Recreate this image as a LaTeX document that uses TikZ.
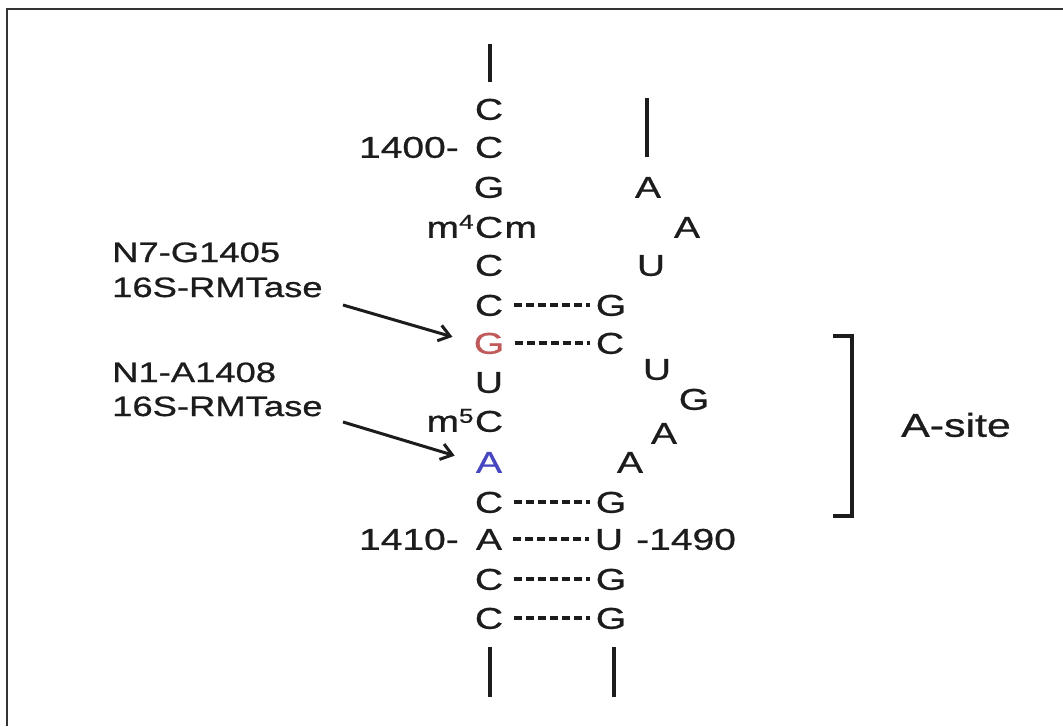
\documentclass[tikz,border=0pt]{standalone}
\usepackage{fontspec}
\setmainfont{Liberation Sans}[FakeStretch=1.3,FakeBold=0.8]
\usetikzlibrary{arrows.meta}
\definecolor{ink}{HTML}{1C1C1C}
\definecolor{gred}{HTML}{C05A5A}
\definecolor{ablue}{HTML}{4646C0}
\begin{document}
\begin{tikzpicture}[x=1pt,y=-1pt,
  nt/.style={inner sep=0pt, text height=21.5pt, text depth=0pt, font=\fontsize{30}{36}\selectfont, text=ink},
  lab/.style={inner sep=0pt, anchor=west, text height=20pt, text depth=0pt, font=\fontsize{28}{34}\selectfont, text=ink},
  pair/.style={draw=ink, line width=3.3pt, dash pattern=on 8pt off 4pt, shorten <=11pt, shorten >=6pt},
  stem/.style={draw=ink, line width=4pt},
  arr/.style={draw=ink, line width=3pt, -{Straight Barb[length=11pt,width=16pt,line width=3pt]}},
  frame/.style={draw=black!80, line width=2pt}]
\useasboundingbox (0,0) rectangle (1063,726);
% frame
\coordinate (fTL) at (7,9);
\coordinate (fTR) at (1063,9);
\coordinate (fBL) at (7,726);
\draw[frame] (fTR) -- (fTL) -- (fBL);

% left strand
\node[nt] (L0) at (489,109) {C};
\node[nt] (L1) at (489,147) {C};
\node[nt] (L2) at (489,187) {G};
\node[nt] (L3) at (489,227) {C};
\node[nt] (L4) at (489,265) {C};
\node[nt] (L5) at (489,305) {C};
\node[nt, text=gred] (L6) at (489,343) {G};
\node[nt] (L7) at (489,382) {U};
\node[nt] (L8) at (489,421) {C};
\node[nt, text=ablue] (L9) at (489,462) {A};
\node[nt] (L10) at (489,502) {C};
\node[nt] (L11) at (489,539) {A};
\node[nt] (L12) at (489,579) {C};
\node[nt] (L13) at (489,618) {C};
% modifications
\node[nt, anchor=east] (m4) at ([xshift=-1pt]L3.west) {m\raisebox{9pt}{\fontsize{20}{20}\selectfont 4}};
\node[nt, anchor=west] (m4r) at ([xshift=1pt]L3.east) {m};
\node[nt, anchor=east] (m5) at ([xshift=-1pt]L8.west) {m\raisebox{9pt}{\fontsize{20}{20}\selectfont 5}};

% right strand
\node[nt] (R2) at (648,187) {A};
\node[nt] (R3) at (687,227) {A};
\node[nt] (R4) at (651,265) {U};
\node[nt] (R5) at (611,305) {G};
\node[nt] (R6) at (610,343) {C};
\node[nt] (Ra) at (657,369) {U};
\node[nt] (Rb) at (694,399) {G};
\node[nt] (Rc) at (664,433) {A};
\node[nt] (Rd) at (630,462) {A};
\node[nt] (R10) at (611,502) {G};
\node[nt] (R11) at (609,539) {U};
\node[nt] (R12) at (611,579) {G};
\node[nt] (R13) at (611,618) {G};

% numbering
\node[nt, anchor=east] (n1400) at (459,147) {1400-};
\node[nt, anchor=east] (n1410) at (459,539) {1410-};
\node[nt, anchor=west] (n1490) at (636,539) {-1490};

% base pairs
\draw[pair] (L5.east) -- (R5.west);
\draw[pair] (L6.east) -- (R6.west);
\draw[pair] (L10.east) -- (R10.west);
\draw[pair] (L11.east) -- (R11.west);
\draw[pair] (L12.east) -- (R12.west);
\draw[pair] (L13.east) -- (R13.west);

% strand continuation lines
\coordinate (tL) at (490,44);
\coordinate (tR) at (647,98);
\coordinate (bL) at (490,697);
\coordinate (bR) at (614,697);
\draw[stem] (tL) -- (490,82);
\draw[stem] (tR) -- (647,157);
\draw[stem] (490,647) -- (bL);
\draw[stem] (614,647) -- (bR);

% labels and arrows
\node[lab] (lab1a) at (112,252) {N7-G1405};
\node[lab] (lab1b) at (112,287) {16S-RMTase};
\node[lab] (lab2a) at (112,372) {N1-A1408};
\node[lab] (lab2b) at (112,406) {16S-RMTase};
\coordinate (a1s) at (343,305);
\coordinate (a2s) at (343,422);
\draw[arr, shorten >=22pt] (a1s) -- (L6.west);
\draw[arr, shorten >=22pt] (a2s) -- (L9.west);

% A-site bracket
\coordinate (bt) at (833,336);
\coordinate (bb) at (833,516);
\draw[draw=ink, line width=3.5pt] (bt) -- (852,336) -- (852,516) -- (bb);
\node[inner sep=0pt, text height=23.5pt, text depth=0pt, font=\fontsize{33}{40}\selectfont, text=ink] (asite) at (956,425) {A-site};
\end{tikzpicture}
\end{document}
